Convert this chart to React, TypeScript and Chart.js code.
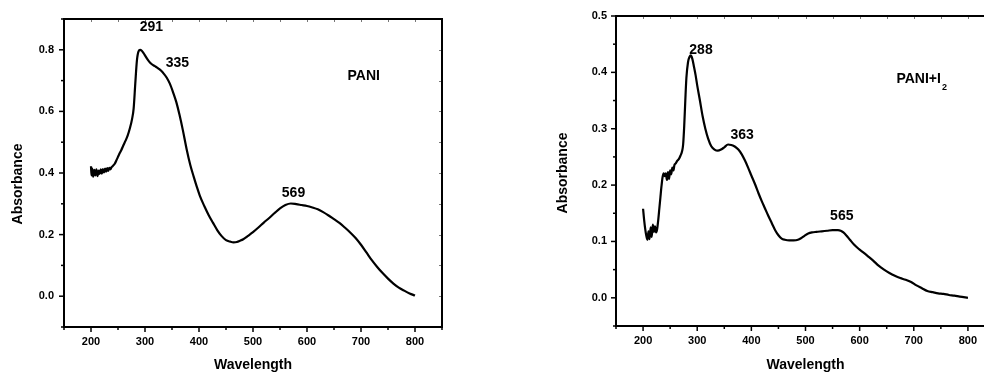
import { useEffect, useRef } from "react";
import { Chart, registerables } from "chart.js";

Chart.register(...registerables);

const FONT = "'Liberation Sans', Arial, Helvetica, sans-serif";

// ---------- Data: PANI ----------
const paniWavelength = [
  200, 201, 202, 204, 206, 208, 210, 212, 214, 216, 218, 220, 222, 224, 226, 228, 230, 232, 234, 236, 238,
  240, 244, 248, 252, 256, 260, 264, 268, 272, 276, 279, 282, 285, 288, 291, 294, 297, 300, 305, 310,
  315, 320, 325, 330, 335, 340, 346, 352, 358, 364, 370, 377, 384, 390, 396, 402, 410, 418, 426, 434,
  442, 450, 458, 464, 470, 476, 482, 490, 500, 510, 520, 530, 540, 550, 560, 570, 580, 590, 600, 610,
  620, 630, 640, 650, 660, 670, 680, 690, 700, 710, 720, 730, 740, 750, 760, 770, 780, 790, 800,
];
const paniAbsorbance = [
  0.422, 0.392, 0.415, 0.388, 0.41, 0.392, 0.412, 0.39, 0.408, 0.397, 0.412, 0.398, 0.413, 0.402, 0.414, 0.404, 0.416, 0.407, 0.417, 0.412, 0.419,
  0.422, 0.43, 0.445, 0.46, 0.474, 0.49, 0.505, 0.522, 0.545, 0.575, 0.61, 0.69, 0.765, 0.795, 0.8, 0.797, 0.79, 0.782, 0.768, 0.757,
  0.75, 0.745, 0.739, 0.732, 0.722, 0.71, 0.69, 0.662, 0.63, 0.588, 0.54, 0.478, 0.425, 0.389, 0.355, 0.324, 0.292, 0.263, 0.238, 0.214,
  0.195, 0.182, 0.177, 0.175, 0.176, 0.18, 0.185, 0.195, 0.208, 0.223, 0.239, 0.254, 0.27, 0.285, 0.296, 0.301, 0.299, 0.296, 0.293, 0.288,
  0.282, 0.273, 0.262, 0.25, 0.238, 0.223, 0.207, 0.189, 0.167, 0.142, 0.117, 0.095, 0.075, 0.057, 0.041, 0.028, 0.018, 0.009, 0.002,
];

// ---------- Data: PANI + I2 ----------
const iodineWavelength = [
  200, 202, 204, 206, 208, 210, 212, 214, 216, 218, 220, 222, 224, 226, 228, 230, 232, 234, 236, 238,
  240, 242, 244, 246, 248, 250, 252, 254, 256, 258, 260, 263, 266, 269, 272, 274, 276, 278, 280, 283,
  286, 288, 291, 294, 297, 300, 305, 310, 315, 320, 326, 332, 338, 344, 350, 357, 363, 370, 376, 382,
  388, 394, 400, 407, 413, 419, 425, 431, 438, 444, 450, 456, 462, 470, 478, 486, 492, 498, 505, 512,
  520, 530, 540, 550, 560, 565, 570, 576, 582, 590, 598, 606, 615, 625, 635, 645, 655, 665, 675, 685,
  695, 705, 715, 725, 735, 745, 755, 765, 775, 785, 800,
];
const iodineAbsorbance = [
  0.158, 0.138, 0.122, 0.11, 0.103, 0.118, 0.104, 0.125, 0.108, 0.13, 0.117, 0.127, 0.116, 0.122, 0.138, 0.158, 0.178, 0.198, 0.214, 0.221,
  0.216, 0.221, 0.209, 0.223, 0.211, 0.226, 0.219, 0.231, 0.226, 0.236, 0.238, 0.243, 0.246, 0.252, 0.26, 0.272, 0.305, 0.35, 0.39, 0.418,
  0.428, 0.43, 0.424, 0.41, 0.395, 0.377, 0.35, 0.322, 0.3, 0.283, 0.269, 0.263, 0.261, 0.263, 0.267, 0.272, 0.271, 0.268, 0.263, 0.255,
  0.244, 0.231, 0.217, 0.201, 0.186, 0.172, 0.159, 0.146, 0.132, 0.12, 0.111, 0.105, 0.103, 0.102, 0.102, 0.103, 0.106, 0.11, 0.114, 0.116,
  0.117, 0.118, 0.119, 0.12, 0.12, 0.119, 0.116, 0.11, 0.103, 0.094, 0.087, 0.081, 0.074, 0.066, 0.057, 0.05, 0.044, 0.039, 0.035, 0.032,
  0.028, 0.022, 0.017, 0.012, 0.01, 0.008, 0.007, 0.005, 0.004, 0.002, 0.0,
];

// ---------- Ticks ----------
const xMajorTicks = [200, 300, 400, 500, 600, 700, 800];
const xMinorTicks = [150, 250, 350, 450, 550, 650, 750, 850];
const paniYMajor = [0, 0.2, 0.4, 0.6, 0.8];
const paniYMinor = [-0.1, 0.1, 0.3, 0.5, 0.7, 0.9];
const iodineYMajor = [0, 0.1, 0.2, 0.3, 0.4, 0.5];
const iodineYMinor = [-0.05, 0.05, 0.15, 0.25, 0.35, 0.45];

// ---------- Annotations (data coordinates) ----------
const paniPeakLabels = [
  { text: "291", x: 312, y: 0.874 },
  { text: "335", x: 360, y: 0.756 },
  { text: "569", x: 575, y: 0.333 },
];
const paniTag = { text: "PANI", sub: "", x: 705, y: 0.715, align: "center" };
const iodinePeakLabels = [
  { text: "288", x: 307, y: 0.439 },
  { text: "363", x: 383, y: 0.288 },
  { text: "565", x: 567, y: 0.145 },
];
const iodineTag = { text: "PANI+I", sub: "2", x: 668, y: 0.388, align: "left" };

type Panel = {
  wl: number[];
  ab: number[];
  yMin: number;
  yMax: number;
  yStep: number;
  yMajor: number[];
  yMinor: number[];
  labels: { text: string; x: number; y: number }[];
  tag: { text: string; sub: string; x: number; y: number; align: string };
  yAxisWidth: number;
  yLabelPad: number;
  xAxisHeight: number;
  padding: { top: number; right: number; left: number; bottom: number };
  yTitleDx: number;
  yTitleDy: number;
};

const near = (arr: number[], v: number) => arr.some((m) => Math.abs(m - v) < 1e-6);

function makeFramePlugin(p: Panel) {
  return {
    id: "frame",
    afterDatasetsDraw(chart: any) {
      const { ctx, chartArea: a, scales } = chart;
      const x = scales.x;
      const y = scales.y;
      ctx.save();
      const line = (x0: number, y0: number, x1: number, y1: number) => {
        ctx.beginPath();
        ctx.moveTo(x0, y0);
        ctx.lineTo(x1, y1);
        ctx.stroke();
      };
      // mirror ticks (top / right), thin and inward
      ctx.strokeStyle = "#777";
      ctx.lineWidth = 1;
      [...xMajorTicks, ...xMinorTicks].forEach((v) => {
        const px = Math.round(x.getPixelForValue(v)) + 0.5;
        line(px, a.top, px, a.top + 3);
      });
      [...p.yMajor, ...p.yMinor].forEach((v) => {
        const py = Math.round(y.getPixelForValue(v)) + 0.5;
        line(a.right - 3, py, a.right, py);
      });
      // outward ticks on bottom / left
      ctx.strokeStyle = "#000";
      ctx.lineWidth = 1.5;
      xMajorTicks.forEach((v) => {
        const px = x.getPixelForValue(v);
        line(px, a.bottom, px, a.bottom + 5);
      });
      xMinorTicks.forEach((v) => {
        const px = x.getPixelForValue(v);
        line(px, a.bottom, px, a.bottom + 3);
      });
      p.yMajor.forEach((v) => {
        const py = y.getPixelForValue(v);
        line(a.left - 5, py, a.left, py);
      });
      p.yMinor.forEach((v) => {
        const py = y.getPixelForValue(v);
        line(a.left - 3, py, a.left, py);
      });
      // frame
      ctx.lineWidth = 2;
      ctx.strokeRect(a.left, a.top, a.right - a.left, a.bottom - a.top);

      // annotations
      ctx.fillStyle = "#000";
      ctx.font = `bold 14px ${FONT}`;
      ctx.textBaseline = "middle";
      ctx.textAlign = "center";
      p.labels.forEach((l) => {
        ctx.fillText(l.text, x.getPixelForValue(l.x), y.getPixelForValue(l.y));
      });
      const tx = x.getPixelForValue(p.tag.x);
      const ty = y.getPixelForValue(p.tag.y);
      ctx.textAlign = p.tag.align as CanvasTextAlign;
      ctx.fillText(p.tag.text, tx, ty);
      if (p.tag.sub) {
        const w = ctx.measureText(p.tag.text).width;
        ctx.font = `bold 9px ${FONT}`;
        ctx.textAlign = "left";
        ctx.fillText(p.tag.sub, tx + w + 1, ty + 8);
      }

      // y axis title
      ctx.font = `bold 14px ${FONT}`;
      ctx.textAlign = "center";
      ctx.textBaseline = "middle";
      ctx.translate(a.left - p.yTitleDx, (a.top + a.bottom) / 2 + p.yTitleDy);
      ctx.rotate(-Math.PI / 2);
      ctx.fillText("Absorbance", 0, 0);
      ctx.restore();
    },
  };
}

function buildChart(canvas: HTMLCanvasElement, p: Panel) {
  const tickFont = { family: FONT, size: 11, weight: "bold" as const };
  return new Chart(canvas, {
    type: "line",
    data: {
      datasets: [
        {
          data: p.wl.map((w, i) => ({ x: w, y: p.ab[i] })),
          borderColor: "#000",
          borderWidth: 2.2,
          pointRadius: 0,
          fill: false,
          cubicInterpolationMode: "monotone",
        },
      ],
    },
    options: {
      responsive: false,
      animation: false,
      devicePixelRatio: 1,
      layout: { padding: p.padding },
      plugins: { legend: { display: false }, tooltip: { enabled: false } },
      scales: {
        x: {
          type: "linear",
          position: "bottom",
          min: 150,
          max: 850,
          afterFit: (s: any) => {
            s.height = p.xAxisHeight;
          },
          grid: { display: false, drawTicks: false },
          border: { display: false },
          ticks: {
            stepSize: 50,
            autoSkip: false,
            maxRotation: 0,
            padding: 8,
            color: "#000",
            font: tickFont,
            callback: (v: any) => (near(xMajorTicks, Number(v)) ? String(v) : ""),
          },
          title: {
            display: true,
            text: "Wavelength",
            color: "#000",
            font: { family: FONT, size: 14, weight: "bold" },
            padding: { top: 0, bottom: 0 },
          },
        },
        y: {
          type: "linear",
          min: p.yMin,
          max: p.yMax,
          afterFit: (s: any) => {
            s.width = p.yAxisWidth;
          },
          grid: { display: false, drawTicks: false },
          border: { display: false },
          ticks: {
            stepSize: p.yStep,
            autoSkip: false,
            padding: p.yLabelPad,
            color: "#000",
            font: tickFont,
            callback: (v: any) => (near(p.yMajor, Number(v)) ? Number(v).toFixed(1) : ""),
          },
        },
      },
    } as any,
    plugins: [makeFramePlugin(p)],
  });
}

const leftPanel: Panel = {
  wl: paniWavelength,
  ab: paniAbsorbance,
  yMin: -0.1,
  yMax: 0.9,
  yStep: 0.1,
  yMajor: paniYMajor,
  yMinor: paniYMinor,
  labels: paniPeakLabels,
  tag: paniTag,
  yAxisWidth: 64,
  yLabelPad: 10,
  xAxisHeight: 47,
  padding: { top: 19, right: 50, left: 0, bottom: 0 },
  yTitleDx: 46,
  yTitleDy: 11,
};

const rightPanel: Panel = {
  wl: iodineWavelength,
  ab: iodineAbsorbance,
  yMin: -0.05,
  yMax: 0.5,
  yStep: 0.05,
  yMajor: iodineYMajor,
  yMinor: iodineYMinor,
  labels: iodinePeakLabels,
  tag: iodineTag,
  yAxisWidth: 124,
  yLabelPad: 9,
  xAxisHeight: 48,
  padding: { top: 16, right: 17, left: 0, bottom: 0 },
  yTitleDx: 53,
  yTitleDy: 2,
};

export default function App() {
  const leftRef = useRef<HTMLCanvasElement>(null);
  const rightRef = useRef<HTMLCanvasElement>(null);

  useEffect(() => {
    const c1 = buildChart(leftRef.current as HTMLCanvasElement, leftPanel);
    const c2 = buildChart(rightRef.current as HTMLCanvasElement, rightPanel);
    return () => {
      c1.destroy();
      c2.destroy();
    };
  }, []);

  return (
    <div
      style={{
        position: "fixed",
        left: 0,
        top: 0,
        width: 984,
        height: 374,
        overflow: "hidden",
        background: "#fff",
      }}
    >
      <canvas
        ref={leftRef}
        width={492}
        height={374}
        style={{ position: "absolute", left: 0, top: 0, width: 492, height: 374 }}
      />
      <canvas
        ref={rightRef}
        width={520}
        height={374}
        style={{ position: "absolute", left: 492, top: 0, width: 520, height: 374 }}
      />
    </div>
  );
}
